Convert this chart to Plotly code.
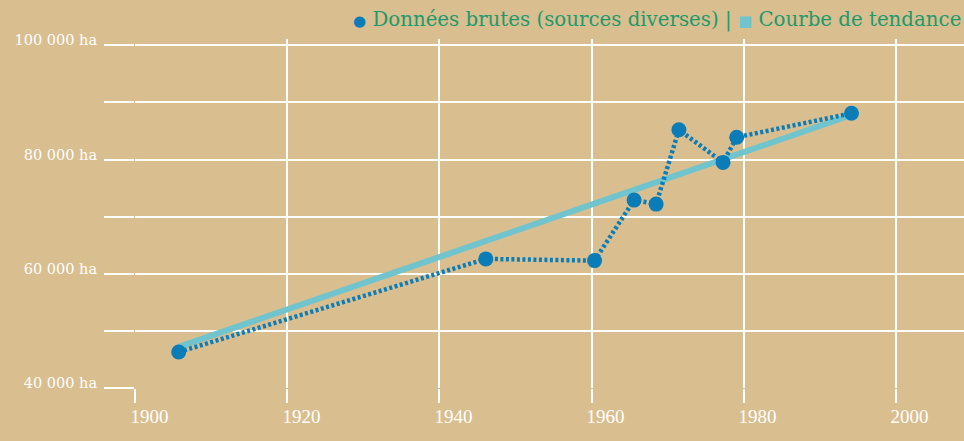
import plotly.graph_objects as go

# surfaces boisées (ha)
annees = [1905.7, 1946.1, 1960.4, 1965.6, 1968.5, 1971.5, 1977.3, 1979.1, 1994.2]
surfaces = [46300, 62600, 62300, 72900, 72200, 85200, 79500, 83900, 88100]

# courbe de tendance : deux extrémités
tendance_annees = [1905.7, 1994.2]
tendance_surfaces = [47200, 87800]

y_ticks = [40000, 50000, 60000, 70000, 80000, 90000, 100000]
y_labels = ["40 000 ha", "", "60 000 ha", "", "80 000 ha", "", "100 000 ha"]
x_ticks = [1900, 1920, 1940, 1960, 1980, 2000]

BLEU = "#0a7db8"
CYAN = "#70c4ce"
VERT = "#1f9a6c"
FOND = "#d9be8f"
POLICE = "DejaVu Serif"

fig = go.Figure()

fig.add_trace(go.Scatter(
    x=tendance_annees, y=tendance_surfaces, mode="lines",
    line=dict(color=CYAN, width=6), hoverinfo="skip",
    name="Courbe de tendance",
))

fig.add_trace(go.Scatter(
    x=annees, y=surfaces, mode="lines+markers",
    line=dict(color=BLEU, width=4.5, dash="3px,2.5px"),
    marker=dict(color=BLEU, size=15),
    name="Données brutes (sources diverses)",
))

fig.add_annotation(
    xref="paper", yref="paper", x=0.999, y=1.054,
    xanchor="right", yanchor="middle", showarrow=False,
    text=(f"<span style='color:{BLEU};font-size:15px'>●</span> Données brutes (sources diverses) | "
          f"<span style='color:{CYAN};font-size:15px'>■</span> Courbe de tendance"),
    font=dict(family=POLICE, size=19.8, color=VERT),
)

fig.update_layout(
    width=964, height=441,
    margin=dict(l=135, r=0, t=39, b=53),
    paper_bgcolor=FOND, plot_bgcolor=FOND,
    showlegend=False,
    font=dict(family=POLICE, size=14, color="white"),
)

fig.update_xaxes(
    range=[1899.95, 2009], tickvals=x_ticks,
    showgrid=True, gridcolor="white", gridwidth=1.5,
    ticks="outside", ticklen=14, tickcolor="white", tickwidth=1.5,
    ticklabelshift=14, ticklabelstandoff=-3, zeroline=False, showline=False,
    tickfont=dict(family="Liberation Serif", size=19, color="white"),
)

fig.update_yaxes(
    range=[40000, 101100], tickvals=y_ticks, ticktext=y_labels,
    showgrid=True, gridcolor="white", gridwidth=1.5,
    ticks="outside", ticklen=30, tickcolor="white", tickwidth=1.5,
    ticklabelshift=-5, ticklabelstandoff=4, zeroline=False, showline=False,
    tickfont=dict(family=POLICE, size=14.5, color="white"),
)

fig.write_html(
    "out.html",
    config={"displayModeBar": False},
    post_script="document.body.style.margin='0';document.body.style.overflow='hidden';",
)
